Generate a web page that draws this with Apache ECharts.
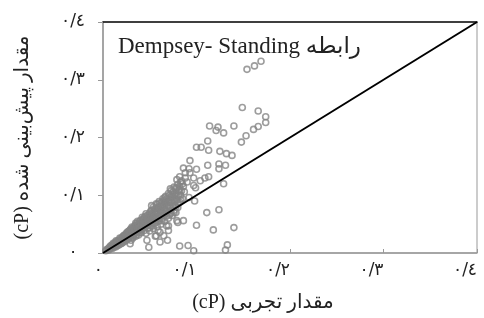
<!DOCTYPE html>
<html>
<head>
<meta charset="utf-8">
<script src="https://cdn.jsdelivr.net/npm/echarts@6/dist/echarts.min.js"></script>
<style>
  html, body { margin: 0; padding: 0; background: #fff; }
  #main { width: 484px; height: 318px; }
</style>
</head>
<body>
<div id="main"></div>
<script>
// tick labels (Persian/Arabic-Indic digits), indexed by value * 10
var tickLabels = ['٠', '٠/١', '٠/٢', '٠/٣', '٠/٤'];

// measured vs. predicted viscosity (cP), read off the picture
// dense cluster near the origin
var clusterPts = [
  [0.003,0.004],[0.004,0.006],[0.005,0.006],[0.006,0.008],[0.007,0.007],[0.008,0.010],[0.008,0.012],
  [0.009,0.009],[0.010,0.011],[0.010,0.014],[0.011,0.013],[0.011,0.017],[0.012,0.010],[0.012,0.016],
  [0.013,0.012],[0.013,0.018],[0.014,0.015],[0.014,0.021],[0.015,0.013],[0.015,0.020],[0.016,0.017],
  [0.017,0.022],[0.017,0.014],[0.018,0.019],[0.018,0.026],[0.019,0.025],[0.019,0.016],[0.020,0.021],
  [0.021,0.028],[0.021,0.018],[0.022,0.024],[0.022,0.030],[0.023,0.031],[0.023,0.020],[0.024,0.027],
  [0.025,0.034],[0.025,0.022],[0.026,0.030],[0.026,0.036],[0.027,0.025],[0.027,0.037],[0.028,0.033],
  [0.029,0.028],[0.029,0.040],[0.030,0.022],[0.030,0.036],[0.031,0.031],[0.031,0.045],[0.032,0.043],
  [0.032,0.026],[0.033,0.039],[0.034,0.034],[0.034,0.047],[0.035,0.029],[0.035,0.048],[0.036,0.042],
  [0.036,0.051],[0.037,0.037],[0.038,0.046],[0.038,0.031],[0.039,0.054],[0.039,0.050],[0.040,0.040],
  [0.040,0.049],[0.041,0.035],[0.042,0.058],[0.042,0.045],[0.043,0.052],[0.043,0.057],[0.044,0.039],
  [0.044,0.061],[0.045,0.048],[0.046,0.056],[0.046,0.034],[0.047,0.065],[0.047,0.059],[0.048,0.043],
  [0.048,0.052],[0.049,0.060],[0.050,0.069],[0.050,0.038],[0.051,0.047],[0.051,0.066],[0.052,0.056],
  [0.052,0.074],[0.053,0.064],[0.054,0.042],[0.054,0.080],[0.055,0.051],[0.055,0.072],[0.056,0.060],
  [0.056,0.070],[0.057,0.085],[0.058,0.046],[0.058,0.077],[0.059,0.055],[0.059,0.078],[0.060,0.065],
  [0.060,0.089],[0.061,0.073],[0.062,0.050],[0.062,0.082],[0.063,0.060],[0.063,0.088],[0.064,0.094],
  [0.064,0.069],[0.065,0.078],[0.066,0.055],[0.066,0.087],[0.067,0.098],[0.067,0.090],[0.068,0.064],
  [0.068,0.073],[0.069,0.082],[0.070,0.103],[0.070,0.060],[0.071,0.092],[0.071,0.100],[0.072,0.069],
  [0.072,0.078],[0.073,0.108],[0.074,0.087],[0.074,0.065],[0.075,0.098],[0.075,0.106],[0.076,0.074],
  [0.076,0.114],[0.077,0.083],[0.078,0.104],[0.078,0.070],[0.079,0.092],[0.079,0.112],[0.080,0.119],
  [0.080,0.079],[0.081,0.110],[0.082,0.088],[0.083,0.100],[0.084,0.125],[0.085,0.094],[0.086,0.115],
  [0.087,0.106],[0.088,0.130],
  [0.006,0.005],[0.007,0.010],[0.009,0.013],[0.010,0.008],[0.012,0.013],[0.013,0.015],[0.014,0.011],
  [0.015,0.017],[0.016,0.021],[0.016,0.014],[0.017,0.018],[0.018,0.016],[0.019,0.021],[0.020,0.025],
  [0.020,0.017],[0.021,0.023],[0.022,0.020],[0.022,0.027],[0.023,0.025],[0.024,0.030],[0.024,0.022],
  [0.025,0.028],[0.026,0.024],[0.026,0.033],[0.027,0.030],[0.028,0.027],[0.028,0.038],[0.029,0.034],
  [0.030,0.030],[0.030,0.042],[0.031,0.027],[0.031,0.038],[0.032,0.034],[0.033,0.030],[0.033,0.044],
  [0.034,0.040],[0.035,0.036],[0.035,0.052],[0.036,0.032],[0.036,0.046],[0.037,0.042],[0.037,0.055],
  [0.038,0.038],[0.038,0.050],[0.039,0.044],[0.040,0.036],[0.040,0.056],[0.041,0.047],[0.041,0.052],
  [0.042,0.041],[0.042,0.062],[0.043,0.048],[0.044,0.055],[0.044,0.044],[0.045,0.063],[0.045,0.052],
  [0.046,0.047],[0.046,0.068],[0.047,0.054],[0.048,0.061],[0.048,0.048],[0.049,0.066],[0.049,0.055],
  [0.050,0.044],[0.050,0.062],[0.051,0.072],[0.052,0.051],[0.052,0.062],[0.053,0.069],[0.053,0.047],
  [0.054,0.058],[0.055,0.076],[0.055,0.064],[0.056,0.053],[0.057,0.068],[0.057,0.078],[0.058,0.060],
  [0.058,0.084],[0.059,0.071],[0.060,0.056],[0.060,0.080],[0.061,0.066],[0.061,0.086],[0.062,0.075],
  [0.063,0.070],[0.063,0.056],[0.064,0.082],[0.065,0.064],[0.065,0.091],[0.066,0.075],[0.067,0.068],
  [0.067,0.084],[0.068,0.094],[0.069,0.070],[0.069,0.078],[0.070,0.088],[0.071,0.066],[0.071,0.082],
  [0.072,0.096],[0.073,0.074],[0.073,0.088],[0.074,0.102],[0.075,0.080],[0.075,0.093],[0.076,0.070],
  [0.077,0.100],[0.077,0.091],[0.078,0.080],[0.079,0.098],[0.080,0.086],[0.081,0.100],[0.082,0.115],
  [0.083,0.092],[0.084,0.108],[0.085,0.120]
];
// scattered points away from the cluster
var spreadPts = [
  [0.154,0.318],[0.162,0.324],[0.169,0.332],
  [0.149,0.252],[0.166,0.246],[0.174,0.236],[0.174,0.226],[0.166,0.219],[0.161,0.214],
  [0.114,0.220],[0.123,0.218],[0.121,0.212],[0.129,0.208],[0.140,0.220],[0.153,0.203],
  [0.112,0.194],[0.148,0.192],[0.100,0.183],[0.105,0.183],[0.113,0.178],[0.125,0.176],
  [0.132,0.172],[0.138,0.169],[0.093,0.160],[0.086,0.147],[0.092,0.146],[0.100,0.145],
  [0.112,0.152],[0.124,0.154],[0.131,0.152],[0.124,0.146],[0.082,0.132],[0.088,0.139],
  [0.093,0.139],[0.097,0.130],[0.104,0.125],[0.113,0.132],[0.109,0.130],[0.079,0.127],
  [0.083,0.123],[0.090,0.123],[0.097,0.117],[0.099,0.113],[0.129,0.120],[0.072,0.111],
  [0.078,0.113],[0.082,0.107],[0.092,0.096],[0.098,0.090],[0.066,0.096],[0.052,0.082],
  [0.111,0.070],[0.124,0.075],[0.080,0.053],[0.086,0.056],[0.100,0.048],[0.118,0.040],
  [0.140,0.044],[0.070,0.047],[0.061,0.036],[0.057,0.030],[0.065,0.030],[0.069,0.022],
  [0.047,0.022],[0.082,0.012],[0.091,0.013],[0.097,0.004],[0.131,0.005],[0.133,0.014],
  [0.029,0.016],[0.049,0.010],[0.056,0.029],[0.059,0.039],[0.070,0.039],[0.068,0.047],
  [0.061,0.019],[0.079,0.056]
];
var scatterData = clusterPts.concat(spreadPts);
var lineData = [[0, 0], [0.4, 0.4]];

var myChart = echarts.init(document.getElementById('main'));

var labelFmt = function (v) {
  return tickLabels[Math.round(v * 10)];
};

var option = {
  animation: false,
  backgroundColor: '#fff',
  title: {
    text: 'Dempsey- Standing رابطه',
    left: 113,
    top: 30,
    textStyle: {
      fontFamily: 'Liberation Serif, DejaVu Sans',
      fontWeight: 'normal',
      fontSize: 23,
      color: '#222'
    }
  },
  grid: {
    left: 103,
    top: 22,
    right: 7,
    bottom: 62,
    show: true,
    borderColor: '#999',
    borderWidth: 1
  },
  xAxis: [{
    type: 'value',
    min: 0,
    max: 0.4,
    interval: 0.1,
    name: '(cP) مقدار تجربی',
    nameLocation: 'middle',
    nameGap: 40,
    nameTextStyle: {
      fontFamily: 'Liberation Serif, DejaVu Sans',
      fontSize: 20,
      color: '#222',
      padding: [0, 54, 0, 0]
    },
    axisLine: { lineStyle: { color: '#999', width: 1.5 } },
    axisTick: { show: true, inside: true, length: 4, lineStyle: { color: '#999' } },
    axisLabel: {
      formatter: labelFmt,
      align: 'right',
      margin: 9,
      fontSize: 17,
      fontFamily: 'DejaVu Sans',
      color: '#222'
    },
    splitLine: { show: false }
  }, {
    type: 'value',
    position: 'top',
    min: 0,
    max: 0.4,
    axisLine: { show: true, lineStyle: { color: '#111', width: 1.5 } },
    axisTick: { show: false },
    axisLabel: { show: false },
    splitLine: { show: false }
  }],
  yAxis: {
    type: 'value',
    min: 0,
    max: 0.4,
    interval: 0.1,
    name: '(cP) مقدار پیش‌بینی شده',
    nameLocation: 'middle',
    nameGap: 70,
    nameTextStyle: {
      fontFamily: 'Liberation Serif, DejaVu Sans',
      fontSize: 20,
      color: '#222'
    },
    axisLine: { show: true, lineStyle: { color: '#999', width: 1.5 } },
    axisTick: { show: true, length: 5, lineStyle: { color: '#999' } },
    axisLabel: {
      formatter: labelFmt,
      align: 'center',
      margin: 30,
      fontSize: 17,
      fontFamily: 'DejaVu Sans',
      color: '#222',
      padding: [0, 0, 8, 0]
    },
    splitLine: { show: false }
  },
  series: [{
    type: 'scatter',
    data: scatterData,
    symbol: 'circle',
    symbolSize: 6,
    itemStyle: {
      color: 'rgba(0,0,0,0)',
      borderColor: '#858585',
      borderWidth: 1.6
    },
    z: 2
  }, {
    type: 'line',
    data: lineData,
    showSymbol: false,
    symbol: 'none',
    lineStyle: { color: '#000', width: 2 },
    z: 3
  }]
};

myChart.setOption(option);
</script>
</body>
</html>
